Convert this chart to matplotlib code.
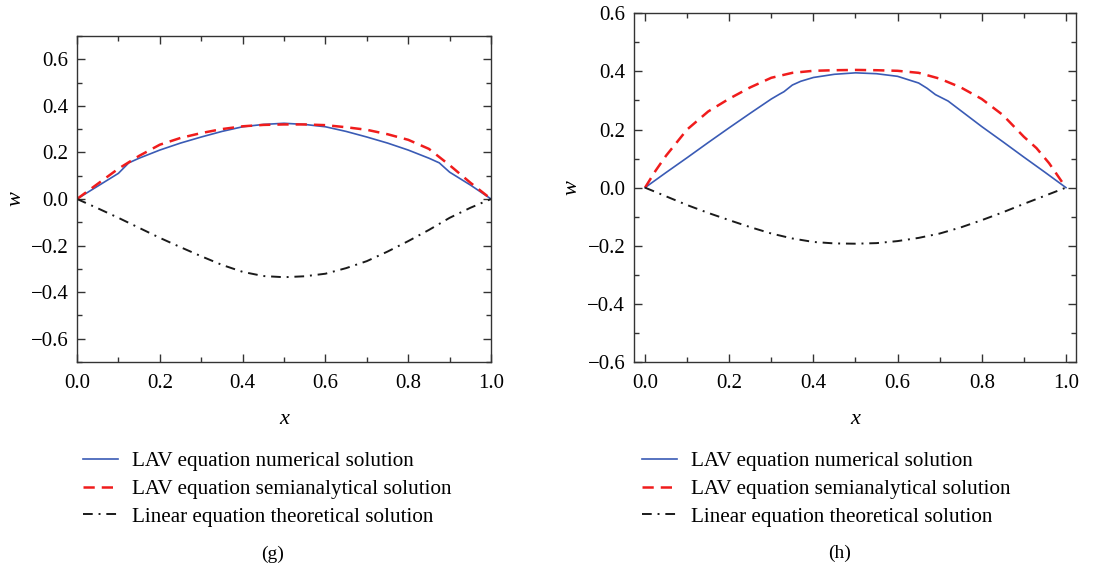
import matplotlib
matplotlib.use("Agg")
import matplotlib.pyplot as plt
from matplotlib.ticker import MultipleLocator, FuncFormatter

plt.rcParams['font.family'] = ['Liberation Serif', 'DejaVu Serif']

# ---- panel (g) data ----
g_num_x = [0.0, 0.05, 0.1, 0.125, 0.15, 0.2, 0.25, 0.3, 0.35, 0.4, 0.45, 0.5,
           0.55, 0.6, 0.65, 0.7, 0.75, 0.8, 0.85, 0.875, 0.9, 0.95, 1.0]
g_num_w = [0.0, 0.055, 0.11, 0.155, 0.175, 0.21, 0.24, 0.266, 0.29, 0.31, 0.32, 0.325,
           0.32, 0.31, 0.29, 0.266, 0.24, 0.21, 0.175, 0.155, 0.115, 0.06, 0.0]
g_semi_x = [0.0, 0.05, 0.1, 0.15, 0.2, 0.25, 0.3, 0.35, 0.4, 0.45, 0.5,
            0.55, 0.6, 0.65, 0.7, 0.75, 0.8, 0.85, 0.9, 0.95, 1.0]
g_semi_w = [0.0, 0.065, 0.13, 0.185, 0.233, 0.262, 0.283, 0.3, 0.312, 0.318, 0.32,
            0.32, 0.317, 0.308, 0.297, 0.278, 0.254, 0.215, 0.145, 0.07, 0.0]
g_lin_x = [0.0, 0.05, 0.1, 0.15, 0.2, 0.25, 0.3, 0.35, 0.4, 0.45, 0.5,
           0.55, 0.6, 0.65, 0.7, 0.75, 0.8, 0.85, 0.9, 0.95, 1.0]
g_lin_w = [0.0, -0.04, -0.081, -0.124, -0.167, -0.207, -0.246, -0.283, -0.313, -0.331, -0.336,
           -0.332, -0.321, -0.297, -0.267, -0.226, -0.181, -0.133, -0.081, -0.038, 0.0]

# ---- panel (h) data ----
h_num_x = [0.0, 0.05, 0.1, 0.15, 0.2, 0.25, 0.3, 0.32, 0.33, 0.35, 0.37, 0.4, 0.45, 0.5,
           0.55, 0.6, 0.65, 0.67, 0.69, 0.72, 0.75, 0.8, 0.85, 0.9, 0.95, 1.0]
h_num_w = [0.0, 0.052, 0.103, 0.155, 0.206, 0.256, 0.305, 0.322, 0.33, 0.353, 0.366, 0.379, 0.39, 0.395,
           0.392, 0.383, 0.36, 0.342, 0.32, 0.298, 0.265, 0.21, 0.158, 0.105, 0.053, 0.0]
h_semi_x = [0.0, 0.025, 0.05, 0.1, 0.15, 0.2, 0.25, 0.3, 0.35, 0.4, 0.45, 0.5,
            0.55, 0.6, 0.65, 0.7, 0.75, 0.8, 0.85, 0.9, 0.93, 0.96, 1.0]
h_semi_w = [0.0, 0.058, 0.11, 0.2, 0.262, 0.306, 0.345, 0.378, 0.395, 0.402, 0.404, 0.405,
            0.404, 0.402, 0.395, 0.375, 0.345, 0.305, 0.25, 0.175, 0.136, 0.084, 0.0]
h_lin_x = [0.0, 0.05, 0.1, 0.15, 0.2, 0.25, 0.3, 0.35, 0.4, 0.45, 0.5,
           0.55, 0.6, 0.65, 0.7, 0.75, 0.8, 0.85, 0.9, 0.95, 1.0]
h_lin_w = [0.0, -0.03, -0.06, -0.087, -0.112, -0.136, -0.158, -0.175, -0.187, -0.192, -0.193,
           -0.191, -0.184, -0.173, -0.158, -0.137, -0.112, -0.085, -0.056, -0.028, 0.0]

labels = ['LAV equation numerical solution',
          'LAV equation semianalytical solution',
          'Linear equation theoretical solution']

fig = plt.figure(figsize=(11.16, 5.67), dpi=100)
ax_g = fig.add_axes([0.069, 0.3616, 0.371, 0.575])
ax_h = fig.add_axes([0.5678, 0.3616, 0.3964, 0.615])

fmt = FuncFormatter(lambda v, p: f'{v:.1f}'.replace('-', '\u2212'))


def draw_panel(ax, nx, nw, sx, sw, lx, lw):
    l1, = ax.plot(nx, nw, color='#3a5bb5', lw=1.2)
    l2, = ax.plot(sx, sw, color='#f01c1c', lw=1.8, dashes=(4.5, 2.8))
    l3, = ax.plot(lx, lw, color='#1a1a1a', lw=1.4, dashes=(5, 3, 1, 3))
    ax.xaxis.set_major_locator(MultipleLocator(0.2))
    ax.xaxis.set_minor_locator(MultipleLocator(0.1))
    ax.yaxis.set_major_locator(MultipleLocator(0.2))
    ax.yaxis.set_minor_locator(MultipleLocator(0.1))
    ax.tick_params(which='both', direction='in', top=True, right=True,
                   labelsize=15, color='#333333', width=1)
    ax.tick_params(which='major', length=6, pad=6)
    ax.tick_params(axis='x', which='major', pad=9)
    ax.tick_params(which='minor', length=3.5)
    ax.xaxis.set_major_formatter(fmt)
    ax.yaxis.set_major_formatter(fmt)
    for s in ax.spines.values():
        s.set_color('#333333')
        s.set_linewidth(1)
    ax.set_xlabel('x', fontsize=16, style='italic', labelpad=12)
    ax.set_ylabel('w', fontsize=16, style='italic', labelpad=4)
    return [l1, l2, l3]


hg = draw_panel(ax_g, g_num_x, g_num_w, g_semi_x, g_semi_w, g_lin_x, g_lin_w)
ax_g.set_xlim(0, 1.0)
ax_g.set_ylim(-0.7, 0.7)

hh = draw_panel(ax_h, h_num_x, h_num_w, h_semi_x, h_semi_w, h_lin_x, h_lin_w)
ax_h.set_xlim(-0.027, 1.024)
ax_h.set_ylim(-0.6, 0.6)

for handles, x0 in [(hg, 0.0744), (hh, 0.575)]:
    fig.legend(handles, labels, loc='upper left', bbox_to_anchor=(x0, 0.204),
               frameon=False, fontsize=15.2, handlelength=1.66, handletextpad=0.66,
               labelspacing=0.38, borderpad=0, borderaxespad=0)

fig.text(273 / 1116, 1 - 554 / 567, '(g)', ha='center', va='center', fontsize=14)
fig.text(840 / 1116, 1 - 553 / 567, '(h)', ha='center', va='center', fontsize=14)

plt.savefig('out.png', dpi=100)
